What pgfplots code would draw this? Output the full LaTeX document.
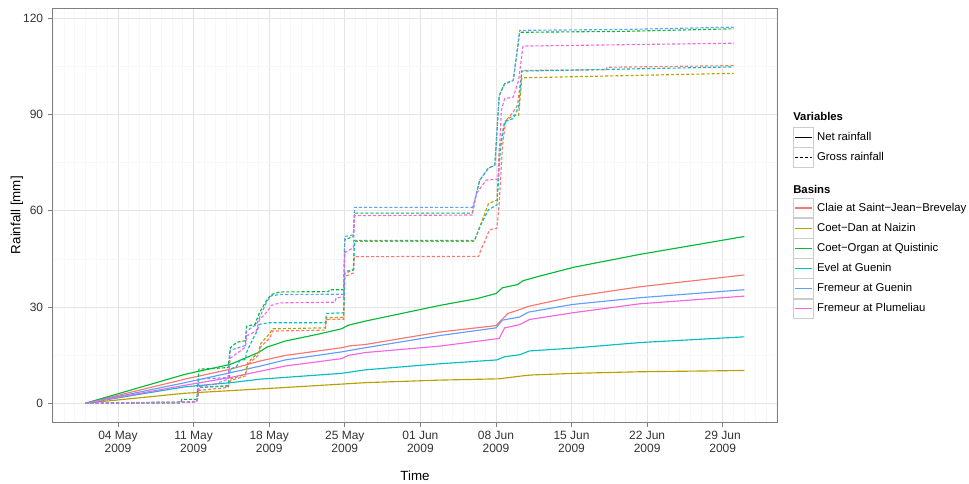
\documentclass[border=0pt]{standalone}
\usepackage{pgfplots}
\pgfplotsset{compat=1.18}
\usepackage{fontspec}
\setmainfont{Liberation Sans}

\definecolor{claie}{HTML}{F8766D}
\definecolor{coetdan}{HTML}{B79F00}
\definecolor{coetorgan}{HTML}{00BA38}
\definecolor{evel}{HTML}{00BFC4}
\definecolor{fremg}{HTML}{619CFF}
\definecolor{fremp}{HTML}{F564E3}

\pgfplotsset{
  base/.style={
    at={(39.5pt,46.5pt)}, anchor=south west,
    scale only axis, width=543.45pt, height=310.3pt,
    xmin=-3.05, xmax=64.05, ymin=-5.87, ymax=123.2,
    clip mode=individual,
    legend image code/.code={
      \draw[black!20, fill=white, solid, line width=0.5pt] (0pt,-7.3pt) rectangle (15pt,7.3pt);
      \draw[##1] (1pt,0pt) -- (14pt,0pt);
    },
    legend cell align=left,
    legend style={anchor=north west, draw=none, fill=none, inner sep=0pt,
      row sep=0pt, nodes={inner xsep=2.4pt, inner ysep=0pt},
      font=\fontsize{8.5}{10}\selectfont},
  },
  gross/.style={dash pattern=on 2.3pt off 1.5pt},
}

\begin{document}
\begin{tikzpicture}
\useasboundingbox (0,0) rectangle (726.75pt,363pt);
\begin{axis}[
  base,
  axis line style={black!50, line width=0.6pt},
  tick align=outside, xtick pos=bottom, ytick pos=left,
  major tick length=3.6pt, minor tick length=0pt,
  tick style={black!50, line width=0.6pt},
  xtick={3,10,17,24,31,38,45,52,59},
  xticklabels={{04 May\\2009},{11 May\\2009},{18 May\\2009},{25 May\\2009},{01 Jun\\2009},{08 Jun\\2009},{15 Jun\\2009},{22 Jun\\2009},{29 Jun\\2009}},
  minor xtick={-3,...,64},
  ytick={0,30,60,90,120},
  minor ytick={15,45,75,105},
  grid=both,
  major grid style={black!10, line width=0.6pt},
  minor grid style={black!3, line width=0.5pt},
  ticklabel style={font=\fontsize{9}{9.5}\selectfont, text=black!80},
  xticklabel style={align=center},
  /pgf/number format/assume math mode=true,
  xlabel={Time}, ylabel={Rainfall [mm]},
  label style={font=\fontsize{10.5}{12}\selectfont},
  every axis x label/.style={at={(axis description cs:0.5,-0.1305)}, anchor=center},
  every axis y label/.style={at={(axis description cs:-0.0493,0.5)}, anchor=center, rotate=90},
  every axis plot/.append style={line width=0.85pt},
  legend style={at={(1.0217,0.5422)}},
]
\addlegendimage{claie}\addlegendentry{Claie at Saint−Jean−Brevelay}
\addlegendimage{coetdan}\addlegendentry{Coet−Dan at Naizin}
\addlegendimage{coetorgan}\addlegendentry{Coet−Organ at Quistinic}
\addlegendimage{evel}\addlegendentry{Evel at Guenin}
\addlegendimage{fremg}\addlegendentry{Fremeur at Guenin}
\addlegendimage{fremp}\addlegendentry{Fremeur at Plumeliau}

% net rainfall
\addplot[claie, forget plot] coordinates {(0,0)(9.2,7.5)(13.4,10.6)(16.2,13.2)(18.5,14.9)(23.7,17.3)(24.5,17.9)(25.9,18.3)(32.8,22.2)(38,24.2)(39.1,28)(40.2,29.2)(41,30.2)(45.1,33.2)(51.3,36.3)(61,40)};
\addplot[coetdan, forget plot] coordinates {(0,0)(9.2,3.1)(18.5,4.9)(25.9,6.4)(32.8,7.2)(38.3,7.6)(40.4,8.5)(41.3,8.8)(45.2,9.3)(51.3,9.8)(61,10.2)};
\addplot[coetorgan, forget plot] coordinates {(0,0)(9.2,9.0)(13.4,12.1)(16,15.8)(16.8,17.5)(18.5,19.4)(21.5,21.5)(23.7,23.2)(24.3,24.3)(25.9,25.6)(32.8,30.5)(36.2,32.6)(38,34.2)(38.6,36)(40,37)(40.5,38.2)(42,39.6)(45.2,42.4)(51.3,46.4)(61,52)};
\addplot[evel, forget plot] coordinates {(0,0)(9.2,5.1)(13.4,6.4)(16.2,7.5)(23.7,9.3)(25.9,10.4)(32.8,12.3)(38.1,13.5)(38.8,14.5)(40.2,15.1)(41.1,16.3)(45.2,17.2)(51.3,18.9)(61,20.7)};
\addplot[fremg, forget plot] coordinates {(0,0)(9.2,6.4)(13.4,9.5)(16.2,11.6)(18.5,13.5)(23.7,16)(25.9,17.3)(32.8,21.1)(38,23.5)(38.6,25.9)(40.2,26.9)(41,28.4)(45.1,30.8)(51.3,32.9)(61,35.4)};
\addplot[fremp, forget plot] coordinates {(0,0)(9.2,5.6)(13.4,8)(16.2,10)(18.5,11.6)(23.7,13.9)(24.3,14.9)(25.9,15.8)(32.8,17.8)(38.3,20.2)(38.8,23.5)(40.2,24.5)(41.1,26.1)(45.1,28.2)(51.3,31)(61,33.4)};

% gross rainfall
\addplot[claie, gross, forget plot] coordinates {(0,0)(9.5,0.3)(10.3,0.5)(10.5,4)(13.2,4.9)(13.4,7)(14.8,8.5)(15,12)(16,15)(16.2,17.5)(17.1,20.5)(17.3,22.5)(22.2,22.8)(22.3,26.1)(23.9,26.2)(24.0,39.5)(24.8,40.6)(24.9,45.7)(36.4,45.8)(36.6,47.9)(36.9,50)(37.4,54.1)(38.1,54.6)(38.3,62.4)(38.6,80)(38.9,88)(39.6,90.9)(40.0,93)(40.4,103.8)(48.2,104)(48.3,104.8)(60,105.3)};
\addplot[coetdan, gross, forget plot] coordinates {(0,0)(9.5,0.3)(10.3,0.5)(10.5,4.9)(13.2,5.3)(13.4,7.5)(14.8,9)(15,12.6)(16,15.8)(16.2,18.5)(17.1,22)(17.3,23.2)(22.2,23.5)(22.3,26.6)(23.9,26.8)(24.0,40.5)(24.8,41.5)(24.9,50.5)(36,50.5)(36.5,55)(37.3,62.2)(38.1,63.4)(38.3,79)(38.8,87.8)(39.6,89.8)(40.1,89.8)(40.4,101.5)(60,102.9)};
\addplot[coetorgan, gross, forget plot] coordinates {(0,0)(8.8,0)(8.9,1.2)(10.3,1.2)(10.5,10.6)(13.2,11.1)(13.4,17.3)(14.0,19)(14.8,19.5)(14.9,24)(15.7,24.6)(15.8,25.6)(16.1,28.2)(16.8,32.3)(17.2,33.9)(18,34.7)(22.5,34.8)(22.6,35.4)(23.9,35.4)(24.0,51)(24.8,52)(24.9,59.3)(35.8,59.3)(35.9,61.4)(36.5,69.6)(37.3,73.3)(37.9,74.3)(38.3,96)(38.8,99.7)(39.6,100.7)(40.2,115.7)(50,116)(60,116.8)};
\addplot[evel, gross, forget plot] coordinates {(0,0)(9.5,0.3)(10.3,0.5)(10.5,4.9)(13.2,5.5)(13.4,10.6)(14,11.5)(14.3,13.4)(14.8,13.6)(14.9,15.8)(15.4,19.4)(15.8,22)(16.1,24.6)(17,25.1)(22.2,25.1)(22.3,28)(23.9,28.2)(24.0,41)(24.8,41.7)(24.9,50.8)(36,50.8)(36.6,55.6)(37.3,60.3)(38.1,61.9)(38.4,79)(38.8,87.8)(39.6,88.8)(40.1,92.4)(40.4,103.6)(60,104.9)};
\addplot[fremg, gross, forget plot] coordinates {(0,0)(9.5,0.4)(10.3,0.6)(10.5,7.5)(13.2,8)(13.4,16.5)(14.8,18)(14.9,22.5)(15.8,24.5)(16.8,31.8)(17.2,33.5)(18,33.9)(23.9,34)(24.0,52)(24.8,52.5)(24.9,61.1)(35.8,61.1)(35.9,61.4)(36.5,69.6)(37.3,73.3)(37.9,74.3)(38.3,96)(38.8,99.5)(39.6,100.7)(40.2,116.3)(50,116.6)(60,117.3)};
\addplot[fremp, gross, forget plot] coordinates {(0,0)(9.5,0.3)(10.3,0.5)(10.5,5.2)(12,6)(13.2,7.5)(13.4,14)(14.8,17.5)(14.9,21)(15.8,22.5)(16.1,26)(16.8,28.5)(17.2,30.5)(18,31.3)(23.1,31.5)(23.2,32.9)(23.9,33)(24.0,47)(24.8,48.5)(24.9,58.5)(35.8,58.7)(36.2,65.5)(37.1,69.6)(38.2,69.9)(38.5,91.4)(38.8,95)(39.6,95.5)(40.1,100.7)(40.5,111.4)(60,112.3)};

\node[anchor=west, inner sep=0pt, font=\bfseries\fontsize{8.5}{10}\selectfont] at (axis description cs:1.0217,0.7373) {Variables};
\node[anchor=west, inner sep=0pt, font=\bfseries\fontsize{8.5}{10}\selectfont] at (axis description cs:1.0217,0.5632) {Basins};
\end{axis}

\begin{axis}[
  base, hide axis,
  legend style={at={(1.0217,0.7131)}},
]
\addlegendimage{black, line width=0.85pt}\addlegendentry{Net rainfall}
\addlegendimage{black, line width=0.85pt, gross}\addlegendentry{Gross rainfall}
\end{axis}
\end{tikzpicture}
\end{document}
